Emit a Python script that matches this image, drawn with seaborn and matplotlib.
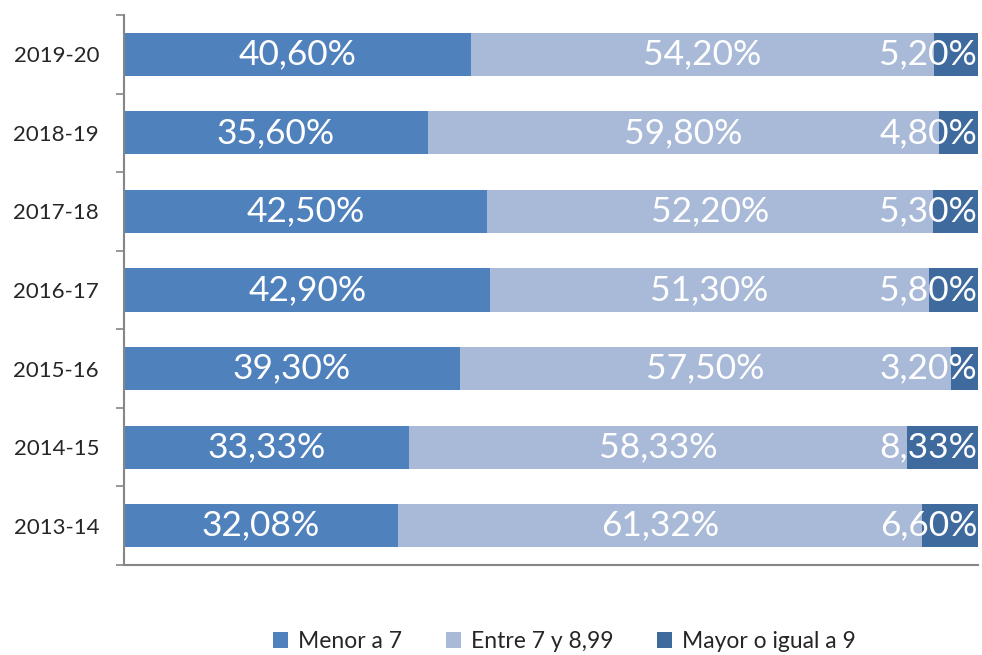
import numpy as np
import pandas as pd
import matplotlib
matplotlib.use("Agg")
import matplotlib.pyplot as plt
import seaborn as sns
from matplotlib.patches import Patch

years = ["2019-20", "2018-19", "2017-18", "2016-17", "2015-16", "2014-15", "2013-14"]
menor_7 = [40.60, 35.60, 42.50, 42.90, 39.30, 33.33, 32.08]
entre_7_899 = [54.20, 59.80, 52.20, 51.30, 57.50, 58.33, 61.32]
mayor_9 = [5.20, 4.80, 5.30, 5.80, 3.20, 8.33, 6.60]
series_names = ["Menor a 7", "Entre 7 y 8,99", "Mayor o igual a 9"]
colors = ["#4F81BD", "#A9BAD8", "#3F6A9E"]

sns.set_style("white")
plt.rcParams["font.family"] = ["Lato", "DejaVu Sans"]

df = pd.DataFrame({"year": years, "s1": menor_7, "s2": entre_7_899, "s3": mayor_9})
df["c1"] = df["s1"]
df["c2"] = df["s1"] + df["s2"]
df["c3"] = df["c2"] + df["s3"]

fig = plt.figure(figsize=(9.82, 6.55), dpi=100)
ax = fig.add_axes([0.1263, 0.1374, 0.8697, 0.8397])

# apilado: primero el total, luego los acumulados encima
for col, color in zip(["c3", "c2", "c1"], colors[::-1]):
    sns.barplot(data=df, x=col, y="year", orient="h", color=color,
                width=0.55, saturation=1, ax=ax, edgecolor="none")

for i, row in df.iterrows():
    ax.text(row["s1"] / 2, i, f"{row['s1']:.2f}%".replace(".", ","),
            ha="center", va="center", color="white", fontsize=25.5)
    ax.text(row["s1"] + row["s2"] / 2, i, f"{row['s2']:.2f}%".replace(".", ","),
            ha="center", va="center", color="white", fontsize=25.5)
    ax.text(99.9, i, f"{row['s3']:.2f}%".replace(".", ","),
            ha="right", va="center", color="white", fontsize=25.5)

ax.set_xlim(0, 100)
ax.set_ylim(len(years) - 0.5, -0.5)
ax.set_xlabel("")
ax.set_ylabel("")
ax.set_xticks([])
ax.set_yticks(range(len(years)))
ax.set_yticklabels(years, fontsize=16)
ax.tick_params(axis="y", which="major", length=0, pad=18)
ax.set_yticks(np.arange(-0.5, len(years), 1), minor=True)
ax.tick_params(axis="y", which="minor", length=6, color="#868686", width=1.2, left=True)

for s in ["top", "right"]:
    ax.spines[s].set_visible(False)
for s in ["left", "bottom"]:
    ax.spines[s].set_color("#868686")
    ax.spines[s].set_linewidth(1.5)

handles = [Patch(facecolor=c, edgecolor="none") for c in colors]
fig.legend(handles, series_names, loc="lower center", bbox_to_anchor=(0.575, -0.027),
           ncol=3, frameon=False, fontsize=16.5, handlelength=0.65, handleheight=0.65,
           handletextpad=0.45, columnspacing=1.9)

plt.savefig("out.png", dpi=100)
plt.close()
